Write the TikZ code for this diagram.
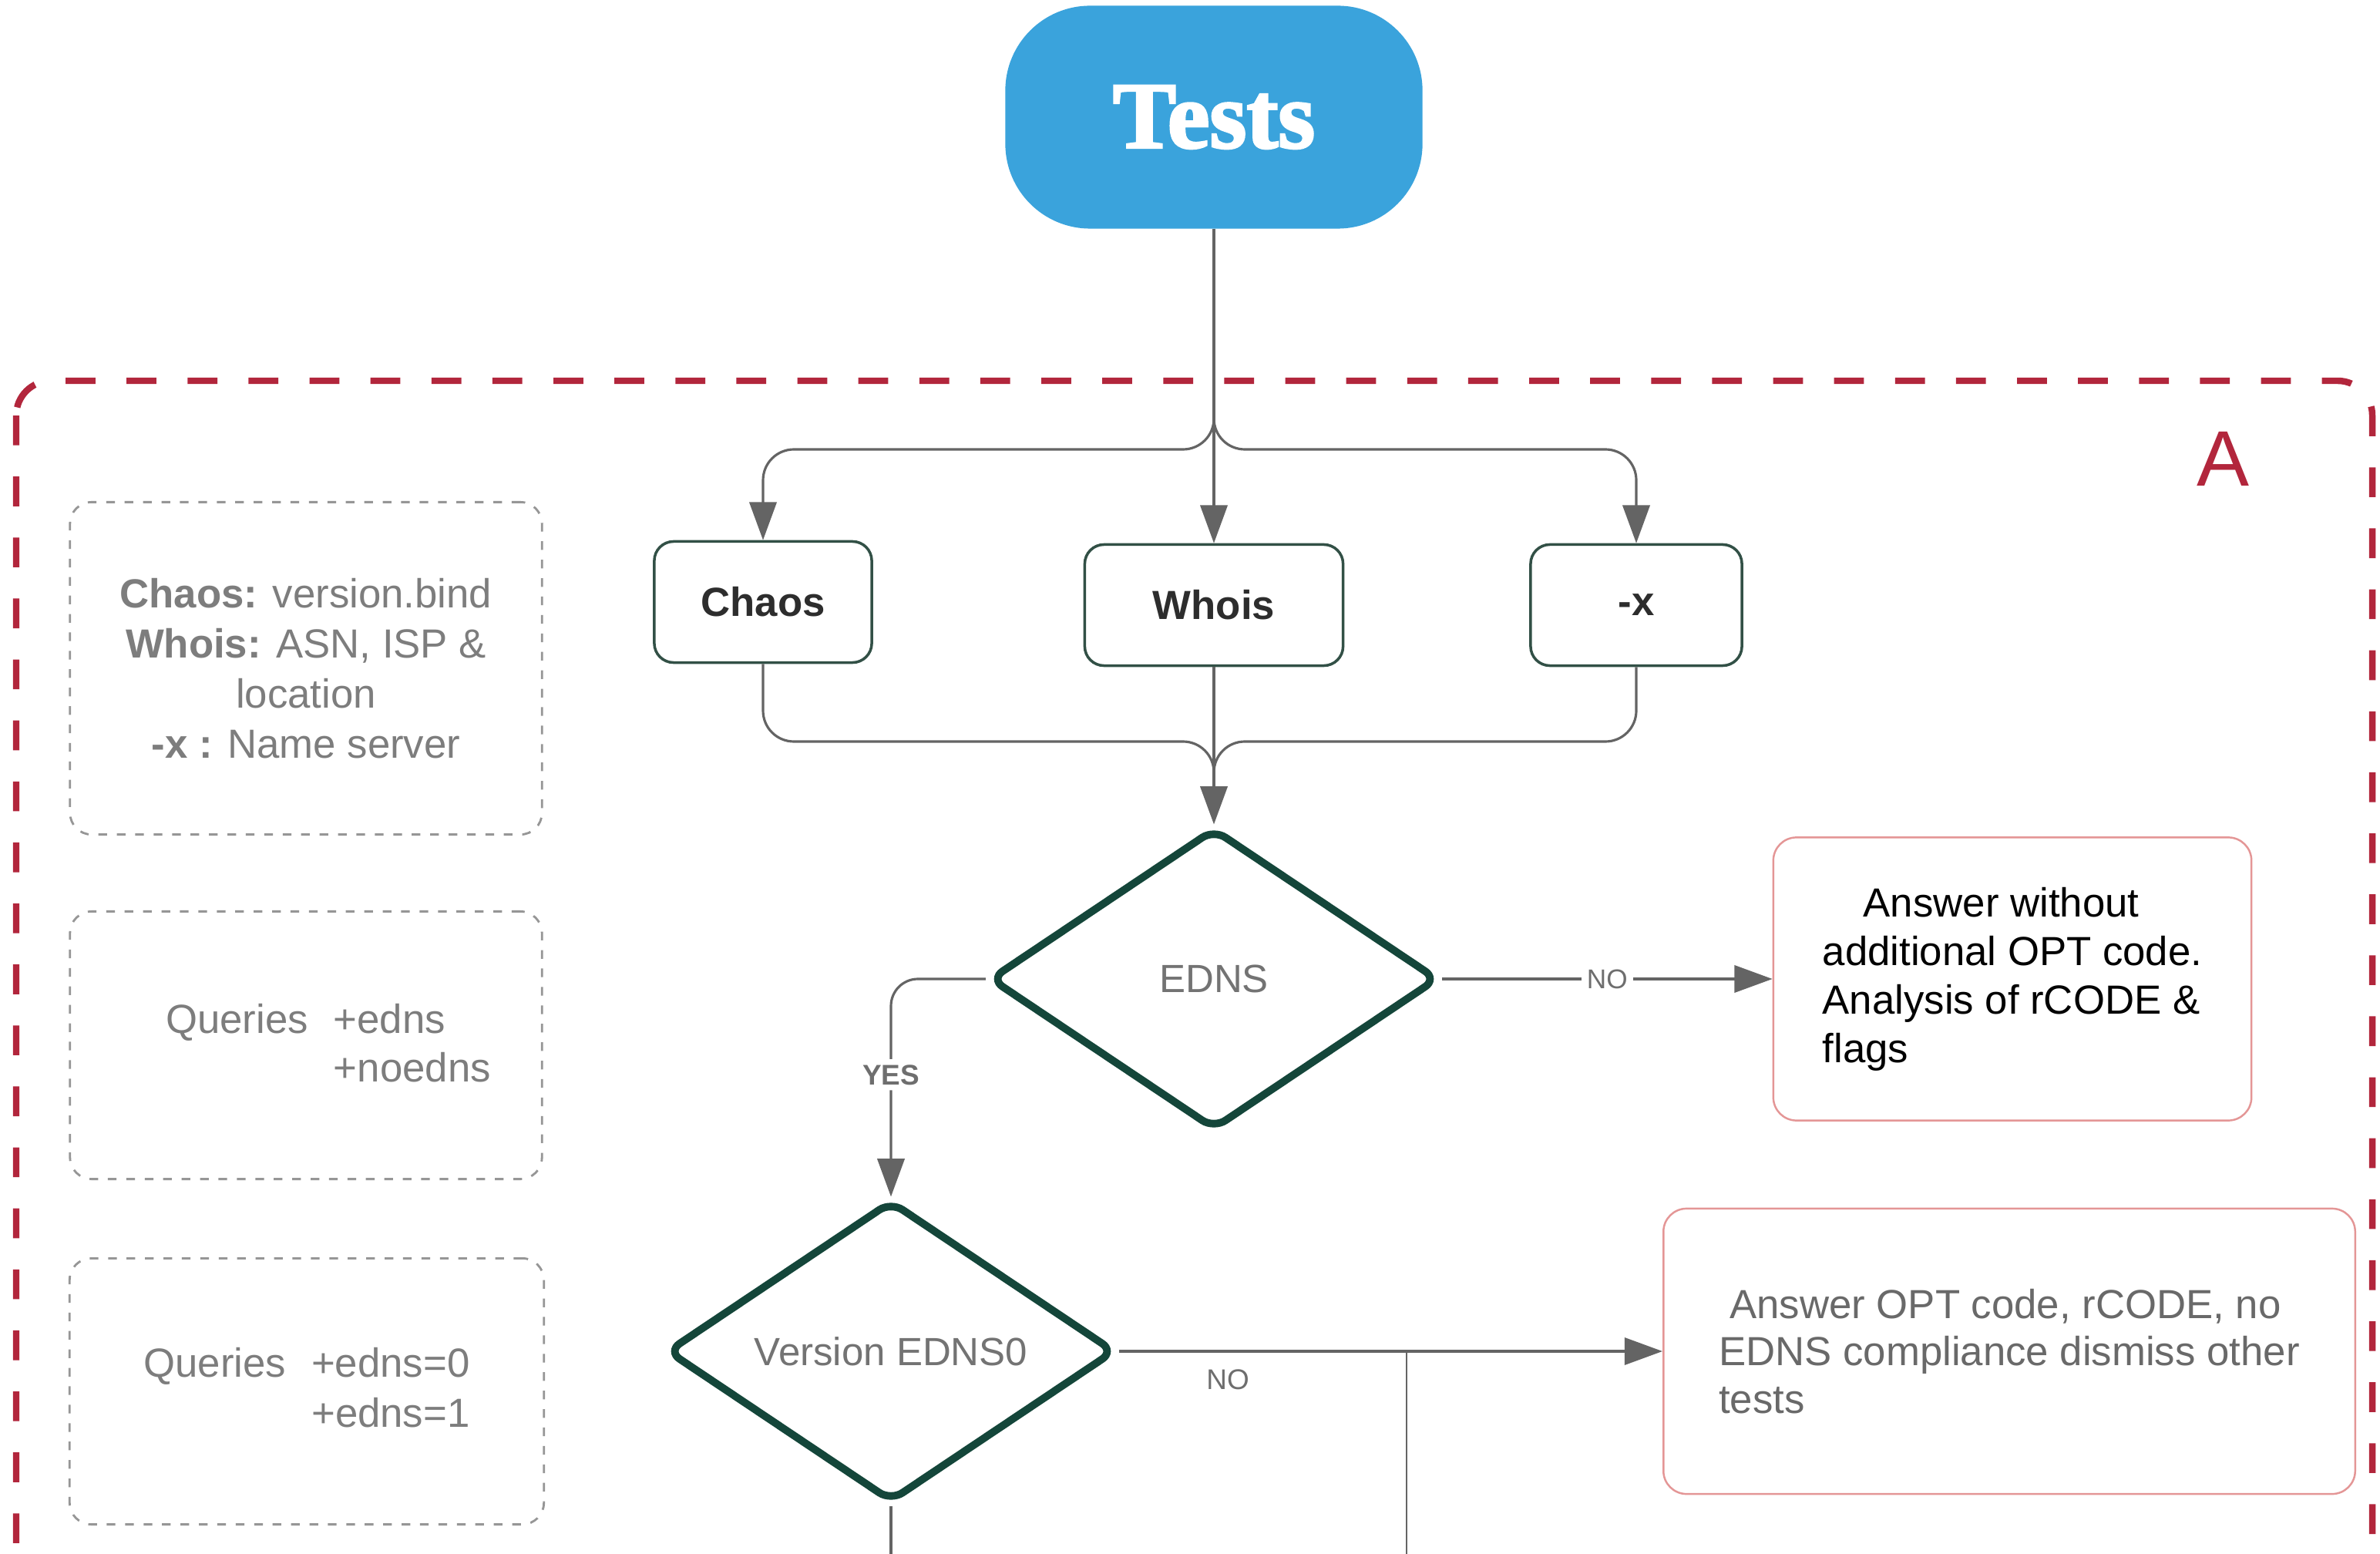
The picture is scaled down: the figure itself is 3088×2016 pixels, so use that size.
\documentclass[tikz,border=0pt]{standalone}
\usepackage{fontspec}
\setmainfont{Liberation Sans}
\newfontfamily\testsfont[BoldFeatures={FakeBold=2.5}]{Liberation Serif}
\usetikzlibrary{arrows.meta,shapes.geometric}
\definecolor{testBlue}{RGB}{58,163,220}
\definecolor{frameRed}{RGB}{178,38,60}
\definecolor{diaGreen}{RGB}{20,70,58}
\definecolor{boxGreen}{RGB}{50,80,70}
\definecolor{noteGray}{RGB}{150,150,150}
\definecolor{noteText}{RGB}{125,125,125}
\definecolor{darkText}{RGB}{45,45,45}
\definecolor{midGray}{RGB}{115,115,115}
\definecolor{lnGray}{RGB}{100,100,100}
\definecolor{lblGray}{RGB}{110,110,110}
\definecolor{pinkLine}{RGB}{228,150,150}
\definecolor{ansTwo}{RGB}{105,105,105}
\begin{document}
\begin{tikzpicture}[x=0.01cm,y=-0.01cm,
  conn/.style={draw=lnGray, line width=0.9pt, -{Triangle[length=14pt,width=10pt]}},
  plainline/.style={draw=lnGray, line width=0.9pt},
  thinline/.style={draw=lnGray, line width=0.6pt},
  termbox/.style={fill=testBlue, rounded corners=1.1cm, minimum width=5.41cm, minimum height=2.89cm, text=white, font=\testsfont\bfseries\fontsize{35}{38}\selectfont},
  testbox/.style={draw=boxGreen, line width=1pt, rounded corners=0.25cm, fill=white, font=\bfseries\fontsize{15}{18}\selectfont, text=darkText, minimum height=1.57cm},
  decision/.style={diamond, shape aspect=1.475, draw=diaGreen, line width=2.8pt, rounded corners=0.18cm, minimum width=5.82cm, minimum height=3.91cm, inner sep=0pt, fill=white, text=midGray, font=\fontsize{14.5}{17}\selectfont},
  notebox/.style={draw=noteGray, dash pattern=on 3.2pt off 3.6pt, line width=0.8pt, rounded corners=0.28cm, text=noteText, font=\fontsize{15}{18.5}\selectfont, align=center},
  notetext/.style={text=noteText, font=\fontsize{15}{18}\selectfont, align=left},
  answerbox/.style={draw=pinkLine, line width=0.7pt, rounded corners=0.3cm, align=left},
  edgelabel/.style={fill=white, inner sep=2pt, text=lblGray},
  groupframe/.style={draw=frameRed, line width=2.4pt, dash pattern=on 11pt off 11.5pt, rounded corners=0.45cm}
]
\useasboundingbox (0,0) rectangle (3088,2016);
\clip (0,0) rectangle (3088,2016);
\fill[white] (0,0) rectangle (3088,2016);

% group frame A
\draw[groupframe] (21,494) rectangle (3078,2050);
\node[text=frameRed, font=\fontsize{29}{32}\selectfont] (labelA) at (2884,595) {A};

% nodes
\node[termbox] (tests) at (1575,152) {Tests};

\node[testbox, minimum width=2.82cm] (chaos) at (990,781) {Chaos};
\node[testbox, minimum width=3.35cm] (whois) at (1575,785) {Whois};
\node[testbox, minimum width=2.74cm] (optx) at (2123,785) {-x};

\node[decision] (edns) at (1575,1270) {EDNS};
\node[decision] (version) at (1156,1753) {Version EDNS0};

\node[answerbox, minimum width=6.2cm, minimum height=3.67cm, text=black, font=\fontsize{15}{17.9}\selectfont] (ans1) at (2611,1270)
  {\hspace*{0.53cm}Answer without\\additional OPT code.\\Analysis of rCODE \&\\flags};
\node[answerbox, minimum width=8.97cm, minimum height=3.7cm, text=ansTwo, font=\fontsize{15}{17.4}\selectfont] (ans2) at (2607,1753)
  {\hspace*{0.14cm}Answer OPT code, rCODE, no\\EDNS compliance dismiss other\\tests};

\node[notebox, minimum width=6.12cm, minimum height=4.31cm] (note1) at (397,867) 
  {\textbf{Chaos:} version.bind\\\textbf{Whois:} ASN, ISP \&\\location\\\textbf{-x :} Name server};
\node[notebox, minimum width=6.12cm, minimum height=3.47cm] (note2) at (397,1356) {};
\node[notetext] (note2text) at (426,1358)
  {Queries\hspace{0.33cm}+edns\\\phantom{Queries}\hspace{0.33cm}+noedns};
\node[notebox, minimum width=6.15cm, minimum height=3.45cm, align=left] (note3) at (398,1805)
  {Queries\hspace{0.33cm}+edns=0\\\phantom{Queries}\hspace{0.33cm}+edns=1};

% helper coordinates
\coordinate (split) at (1575,583);
\coordinate (merge) at (1575,962);
\coordinate (mergeend) at (1575,1010);
\coordinate (tap) at (1825,1753);
\coordinate (tapend) at (1825,2030);
\coordinate (versionend) at (1156,2030);

% connectors
\draw[conn] (tests.south) -- (whois.north);
\draw[conn, rounded corners=0.4cm] (tests.south) -- (split) -| (chaos.north);
\draw[conn, rounded corners=0.4cm] (tests.south) -- (split) -| (optx.north);

\draw[plainline, rounded corners=0.4cm] (chaos.south) |- (merge) -- (mergeend);
\draw[plainline, rounded corners=0.4cm] (optx.south) |- (merge) -- (mergeend);
\draw[conn] (whois.south) -- (edns.north);

\draw[conn] (edns.east) -- (ans1.west)
  node[edgelabel, midway, font=\fontsize{10}{12}\selectfont] (lblno1) {NO};
\draw[conn, rounded corners=0.35cm] (edns.west) -| (version.north)
  node[edgelabel, pos=0.72, font=\bfseries\fontsize{10.5}{12}\selectfont] (lblyes) {YES};
\draw[conn] (version.east) -- (ans2.west)
  node[pos=0.2, yshift=-0.37cm, text=lblGray, font=\fontsize{10.5}{12}\selectfont] (lblno2) {NO};

\draw[thinline] (tap) -- (tapend);
\draw[plainline] (version.south) -- (versionend);
\end{tikzpicture}
\end{document}
